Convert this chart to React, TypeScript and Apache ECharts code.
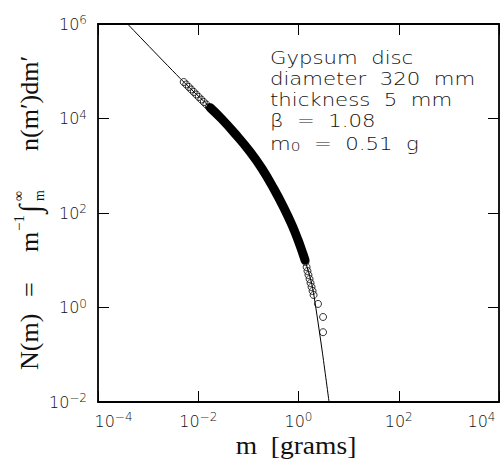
import React, { useEffect, useRef } from "react";
import * as echarts from "echarts";

// Axis ranges
const X_MIN = 1e-4;
const X_MAX = 1e4;
const Y_MIN = 1e-2;
const Y_MAX = 1e6;

// Fitted curve
const fitMass = [3.89e-4, 5.13e-3, 0.017, 0.0295, 0.0537, 0.107, 0.186, 0.324, 0.513, 0.741, 0.977, 1.23, 1.48, 1.78, 2.04, 2.95, 4.07];
const fitN = [1e6, 59200, 17500, 9750, 4820, 2005, 875, 322, 128, 55.7, 26.9, 13.6, 7.19, 3.64, 1.75, 0.126, 0.01];

// Dense region of observations (overlapping markers form a solid band)
const bandMass = [0.0175, 0.0295, 0.0537, 0.107, 0.186, 0.324, 0.513, 0.741, 0.977, 1.23, 1.35];
const bandN = [16800, 9750, 4820, 2005, 875, 322, 128, 55.7, 26.9, 13.6, 10.1];

// Individually visible observations
const obsMass = [0.00513, 0.00575, 0.00646, 0.00724, 0.00813, 0.00912, 0.0102, 0.0115, 0.0129, 0.0145, 0.0162,
  1.38, 1.45, 1.51, 1.58, 1.66, 1.74, 1.82, 1.91, 2.0, 2.45, 3.09, 3.09];
const obsN = [59200, 52500, 46500, 41100, 36400, 32200, 28500, 25200, 22300, 19800, 17500,
  9.18, 7.19, 5.92, 4.88, 4.01, 3.3, 2.72, 2.24, 1.84, 1.19, 0.63, 0.3];

const annotationLines = ["Gypsum  disc", "diameter  320  mm", "thickness  5  mm", "β  =  1.08"];
const annotationM0 = "  =  0.51  g";

const SANS = "'DejaVu Sans', 'Open Sans', sans-serif";
const SERIF = "'Liberation Serif', 'DejaVu Serif', 'Times New Roman', serif";

const zip = (a: number[], b: number[]) => a.map((v, i) => [v, b[i]]);

const expText = (v: number) => {
  const e = Math.round(Math.log10(v));
  return e < 0 ? "−" + Math.abs(e) : String(e);
};

const LBL = "#111";
const base = { fontSize: 16, lineHeight: 20, fontFamily: SANS, color: LBL, fontWeight: 300 };
const sup = { fontSize: 12, lineHeight: 2, fontFamily: SANS, color: LBL, fontWeight: 300, verticalAlign: "top" };
const xRich = {
  b: base,
  bMin: { ...base, padding: [0, 0, 0, 31] },
  s: sup,
  sMax: { ...sup, padding: [0, 35, 0, 0] },
};
const yRich = { b: base, s: sup };

export default function App() {
  const ref = useRef<HTMLDivElement>(null);
  useEffect(() => {
    document.body.style.margin = "0";
    if (!ref.current) return;
    const chart = echarts.init(ref.current, undefined, { renderer: "svg" });

    const axisCommon = {
      type: "log" as const,
      logBase: 100,
      splitNumber: 4,
      axisLine: { show: true, onZero: false, lineStyle: { color: "#000", width: 1.8 } },
      axisTick: { show: true, inside: true, length: 11, lineStyle: { color: "#000", width: 1 } },
      minorTick: { show: false },
      splitLine: { show: false },
      minorSplitLine: { show: false },
    };

    const yTitle = {
      type: "group",
      x: 29,
      y: 213,
      rotation: Math.PI / 2,
      children: [
        { type: "text", x: -157, y: 0, style: { text: "N(m)", font: `26px ${SERIF}`, fill: "#111", verticalAlign: "middle" } },
        { type: "text", x: -84, y: 0, style: { text: "=", font: `26px ${SERIF}`, fill: "#111", verticalAlign: "middle" } },
        { type: "text", x: -39, y: 0, style: { text: "m", font: `26px ${SERIF}`, fill: "#111", verticalAlign: "middle" } },
        { type: "text", x: -18, y: -10, style: { text: "−1", font: `15px ${SERIF}`, fill: "#111", verticalAlign: "middle" } },
        { type: "text", x: 0, y: 0, style: { text: "∫", font: `30px ${SERIF}`, fill: "#111", verticalAlign: "middle" } },
        { type: "text", x: 12, y: -11, style: { text: "∞", font: `14px ${SERIF}`, fill: "#111", verticalAlign: "middle" } },
        { type: "text", x: 12, y: 10, style: { text: "m", font: `14px ${SERIF}`, fill: "#111", verticalAlign: "middle" } },
        { type: "text", x: 62, y: 0, style: { text: "n(m′)dm′", font: `26px ${SERIF}`, fill: "#111", verticalAlign: "middle" } },
      ],
    };

    const annoChildren: any[] = annotationLines.map((t, i) => ({
      type: "text",
      x: 270,
      y: 58.5 + 20.9 * i,
      scaleX: 1.18,
      style: { text: t, font: `300 18px ${SANS}`, fill: "#111", verticalAlign: "middle" },
    }));
    annoChildren.push({
      type: "text",
      x: 270,
      y: 58.5 + 20.9 * 4,
      scaleX: 1.18,
      style: {
        text: `{a|m}{s|0}{a|${annotationM0}}`,
        verticalAlign: "middle",
        rich: {
          a: { font: `300 18px ${SANS}`, fill: "#111", lineHeight: 22, verticalAlign: "bottom" },
          s: { font: `300 13px ${SANS}`, fill: "#111", lineHeight: 14, verticalAlign: "bottom" },
        },
      },
    });

    chart.setOption({
      animation: false,
      backgroundColor: "#fff",
      grid: { left: 98, right: 2, top: 24, bottom: 57, containLabel: false, outerBoundsMode: "none" },
      xAxis: [
        {
          ...axisCommon,
          min: X_MIN,
          max: X_MAX,
          position: "bottom",
          axisLabel: {
            margin: 9,
            hideOverlap: false,
            formatter: (v: number) => {
              const e = Math.round(Math.log10(v));
              if (e === -4) return `{bMin|10}{s|${expText(v)}}`;
              if (e === 4) return `{b|10}{sMax|${expText(v)}}`;
              return `{b|10}{s|${expText(v)}}`;
            },
            rich: xRich,
          },
        },
        {
          ...axisCommon,
          min: X_MIN,
          max: X_MAX,
          position: "top",
          axisLabel: { show: false },
        },
      ],
      yAxis: [
        {
          ...axisCommon,
          min: Y_MIN,
          max: Y_MAX,
          position: "left",
          axisLabel: {
            margin: 11,
            formatter: (v: number) => `{b|10}{s|${expText(v)}}`,
            rich: yRich,
          },
        },
        {
          ...axisCommon,
          min: Y_MIN,
          max: Y_MAX,
          position: "right",
          axisLabel: { show: false },
        },
      ],
      graphic: [
        yTitle,
        {
          type: "text",
          x: 296,
          y: 458,
          scaleX: 1.1,
          style: { text: "m  [grams]", font: `25px ${SERIF}`, fill: "#111", align: "center", verticalAlign: "bottom" },
        },
        ...annoChildren,
      ],
      series: [
        {
          name: "dense observations",
          type: "line",
          data: zip(bandMass, bandN),
          showSymbol: false,
          smooth: 0.45,
          lineStyle: { color: "#000", width: 9, cap: "round", join: "round" },
          z: 2,
        },
        {
          name: "fit",
          type: "line",
          data: zip(fitMass, fitN),
          showSymbol: false,
          smooth: 0.3,
          lineStyle: { color: "#000", width: 1 },
          z: 3,
        },
        {
          name: "observations",
          type: "scatter",
          data: zip(obsMass, obsN),
          symbol: "circle",
          symbolSize: 7,
          itemStyle: { color: "rgba(0,0,0,0)", borderColor: "#000", borderWidth: 1 },
          z: 4,
        },
      ],
    });
    return () => chart.dispose();
  }, []);
  return <div ref={ref} style={{ width: 501, height: 459 }} />;
}
